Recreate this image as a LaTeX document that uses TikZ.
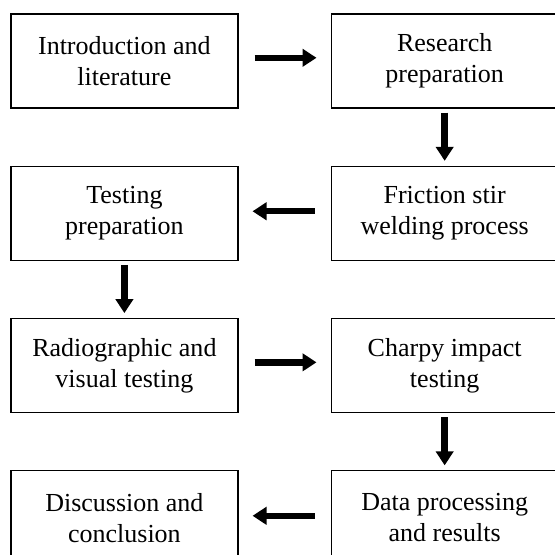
\documentclass[tikz,border=0pt]{standalone}
\usepackage{fontspec}
\setmainfont{Liberation Serif}
\usetikzlibrary{positioning, arrows.meta}

\begin{document}
\begin{tikzpicture}[
  stage/.style={draw, line width=0.9pt, minimum width=5.675cm, minimum height=2.35cm,
    inner sep=0pt, align=center, font=\fontsize{18.5}{22}\selectfont},
  flow/.style={-{Triangle[length=0.35cm, width=0.43cm]}, line width=0.16cm},
  hflow/.style={flow, shorten <=0.4cm, shorten >=0.35cm},
  vflow/.style={flow, shorten <=0.1cm, shorten >=0.12cm},
  node distance=1.425cm and 2.3cm]
  \useasboundingbox (0,0) rectangle (13.875,-13.875);
  \clip (0,0) rectangle (13.875,-13.875);

  \node[stage] (intro) at (3.11,-1.525) {Introduction and\\literature};
  \node[stage, right=of intro] (research) {Research\\preparation};
  \node[stage, below=of research] (fsw) {Friction stir\\welding process};
  \node[stage, below=of intro] (testprep) {Testing\\preparation};
  \node[stage, below=of testprep] (radio) {Radiographic and\\visual testing};
  \node[stage, below=of fsw] (charpy) {Charpy impact\\testing};
  \node[stage, below=of radio] (discuss) {Discussion and\\conclusion};
  \node[stage, below=of charpy] (data) {Data processing\\and results};

  % flow of the work
  \draw[hflow] ([yshift=0.08cm]intro.east) -- ([yshift=0.08cm]research.west);
  \draw[vflow] (research) -- (fsw);
  \draw[hflow] ([yshift=0.05cm]fsw.west) -- ([yshift=0.05cm]testprep.east);
  \draw[vflow] (testprep) -- (radio);
  \draw[hflow] ([yshift=0.08cm]radio.east) -- ([yshift=0.08cm]charpy.west);
  \draw[vflow] (charpy) -- (data);
  \draw[hflow] ([yshift=0.05cm]data.west) -- ([yshift=0.05cm]discuss.east);
\end{tikzpicture}
\end{document}
